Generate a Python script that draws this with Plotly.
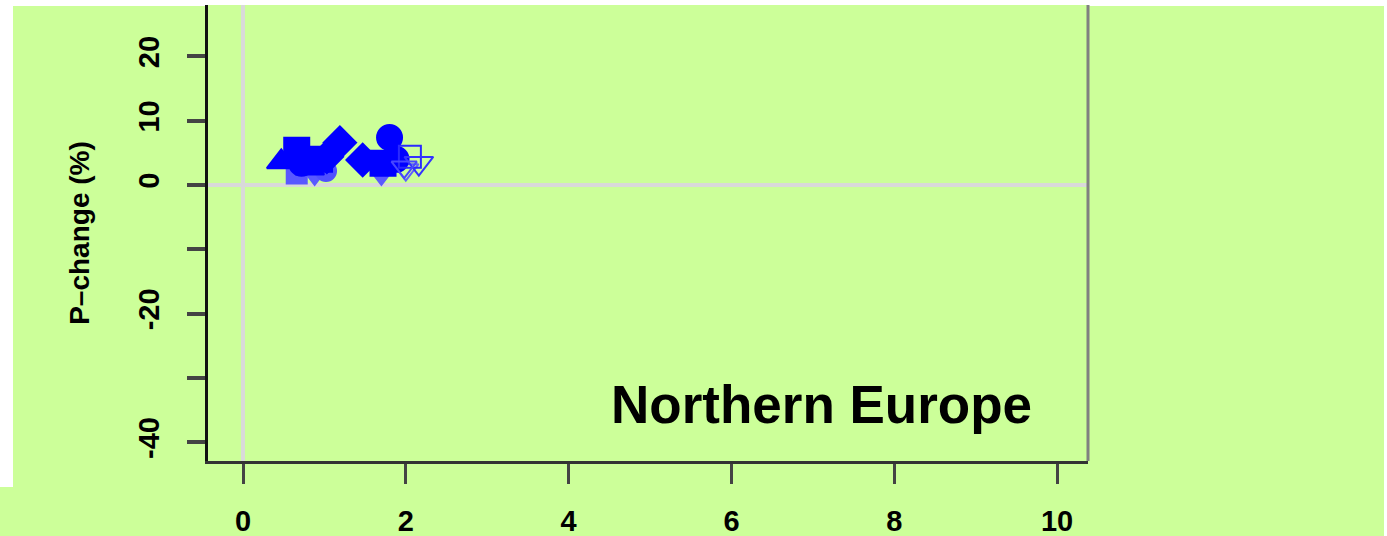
import plotly.graph_objects as go

# Precipitation change against temperature change, one region
# pale markers first so the solid ones sit on top
x_vals = [0.66, 0.88, 1.02, 1.70, 2.00,
          0.47, 0.66, 0.72, 0.82, 0.94, 1.03, 1.19,
          1.47, 1.80, 1.72, 1.88, 2.05, 2.16, 1.98]
y_vals = [1.8, 1.6, 2.2, 1.6, 2.4,
          3.6, 5.4, 3.4, 2.6, 4.0, 4.4, 6.6,
          3.9, 7.4, 3.4, 4.0, 4.4, 3.4, 2.8]
symbols = ["square", "triangle-down", "circle", "triangle-down", "triangle-down-open",
           "triangle-up", "square", "circle", "triangle-up", "square", "diamond", "diamond",
           "diamond", "circle", "square", "circle",
           "square-open", "triangle-down-open", "triangle-down-open"]
shades = ["#5858ff", "#5a5aff", "#5050ff", "#5a5aff", "#6060ff",
          "#0000ff", "#0000ff", "#0000ff", "#0000ff", "#0000ff", "#0000ff", "#0000ff",
          "#0000ff", "#0000ff", "#0000ff", "#0000ff",
          "#2a2aff", "#3333ff", "#4848ff"]
sizes = [20, 20, 20, 20, 22,
         25, 25, 25, 25, 25, 25, 25,
         25, 25, 25, 25, 22, 25, 22]

x_ticks = [0, 2, 4, 6, 8, 10]
y_ticks = [-40, -30, -20, -10, 0, 10, 20]
y_tick_text = ["-40", "", "-20", "", "0", "10", "20"]

region_name = "Northern Europe"
y_title = "P\u2013change (%)"

green = "#ccff99"
font_family = "Liberation Sans, Arial, sans-serif"

fig = go.Figure()
fig.add_trace(go.Scatter(
    x=x_vals, y=y_vals, mode="markers",
    marker=dict(symbol=symbols, color=shades, size=sizes, opacity=1,
                line=dict(width=2, color=shades)),
    showlegend=False, hoverinfo="skip",
))

W, H = 1387, 536
L, R, T, B = 208, 1088, 5, 461
pw, ph = R - L, B - T


def px(xp):
    return (xp - L) / pw


def py(yp):
    return (B - yp) / ph


shapes = [
    # green page panels
    dict(type="rect", xref="paper", yref="paper", layer="below",
         x0=px(13), x1=px(1384), y0=py(487), y1=py(6),
         fillcolor=green, line=dict(width=0)),
    dict(type="rect", xref="paper", yref="paper", layer="below",
         x0=px(0), x1=px(1384), y0=py(H), y1=py(487),
         fillcolor=green, line=dict(width=0)),
    # right frame edge
    dict(type="line", xref="paper", yref="paper", layer="above",
         x0=1, x1=1, y0=0, y1=1, line=dict(color="#808080", width=3)),
]

tick_font = dict(size=29, family=font_family, color="black", weight="bold")

fig.update_layout(
    width=W, height=H,
    margin=dict(l=L, r=W - R, t=T, b=H - B, pad=0, autoexpand=False),
    paper_bgcolor="white", plot_bgcolor=green,
    font=dict(family=font_family, color="black"),
    shapes=shapes,
    xaxis=dict(
        range=[-0.43, 10.38], tickvals=x_ticks, ticktext=[str(v) for v in x_ticks],
        automargin=False,
        showgrid=False, zeroline=True, zerolinecolor="#d9d9d9", zerolinewidth=4,
        showline=True, linecolor="#333333", linewidth=3,
        ticks="outside", ticklen=20, tickwidth=3, tickcolor="#444444",
        tickfont=tick_font, ticklabelstandoff=12,
    ),
    yaxis=dict(
        range=[-42.9, 28.0], tickvals=y_ticks, ticktext=y_tick_text,
        automargin=False,
        showgrid=False, zeroline=True, zerolinecolor="#d9d9d9", zerolinewidth=4,
        showline=True, linecolor="#111111", linewidth=3,
        ticks="outside", ticklen=18, tickwidth=4, tickcolor="#444444",
        tickangle=-90, tickfont=tick_font, ticklabelstandoff=16,
        title=dict(text=y_title, standoff=36,
                   font=dict(size=28, family=font_family, color="black", weight="bold")),
    ),
    annotations=[dict(
        text=region_name, xref="paper", yref="paper",
        x=px(1034), y=py(404), xanchor="right", yanchor="middle",
        showarrow=False,
        font=dict(size=53, family=font_family, color="black", weight="bold"),
    )],
)

fig.write_html("out.html")
